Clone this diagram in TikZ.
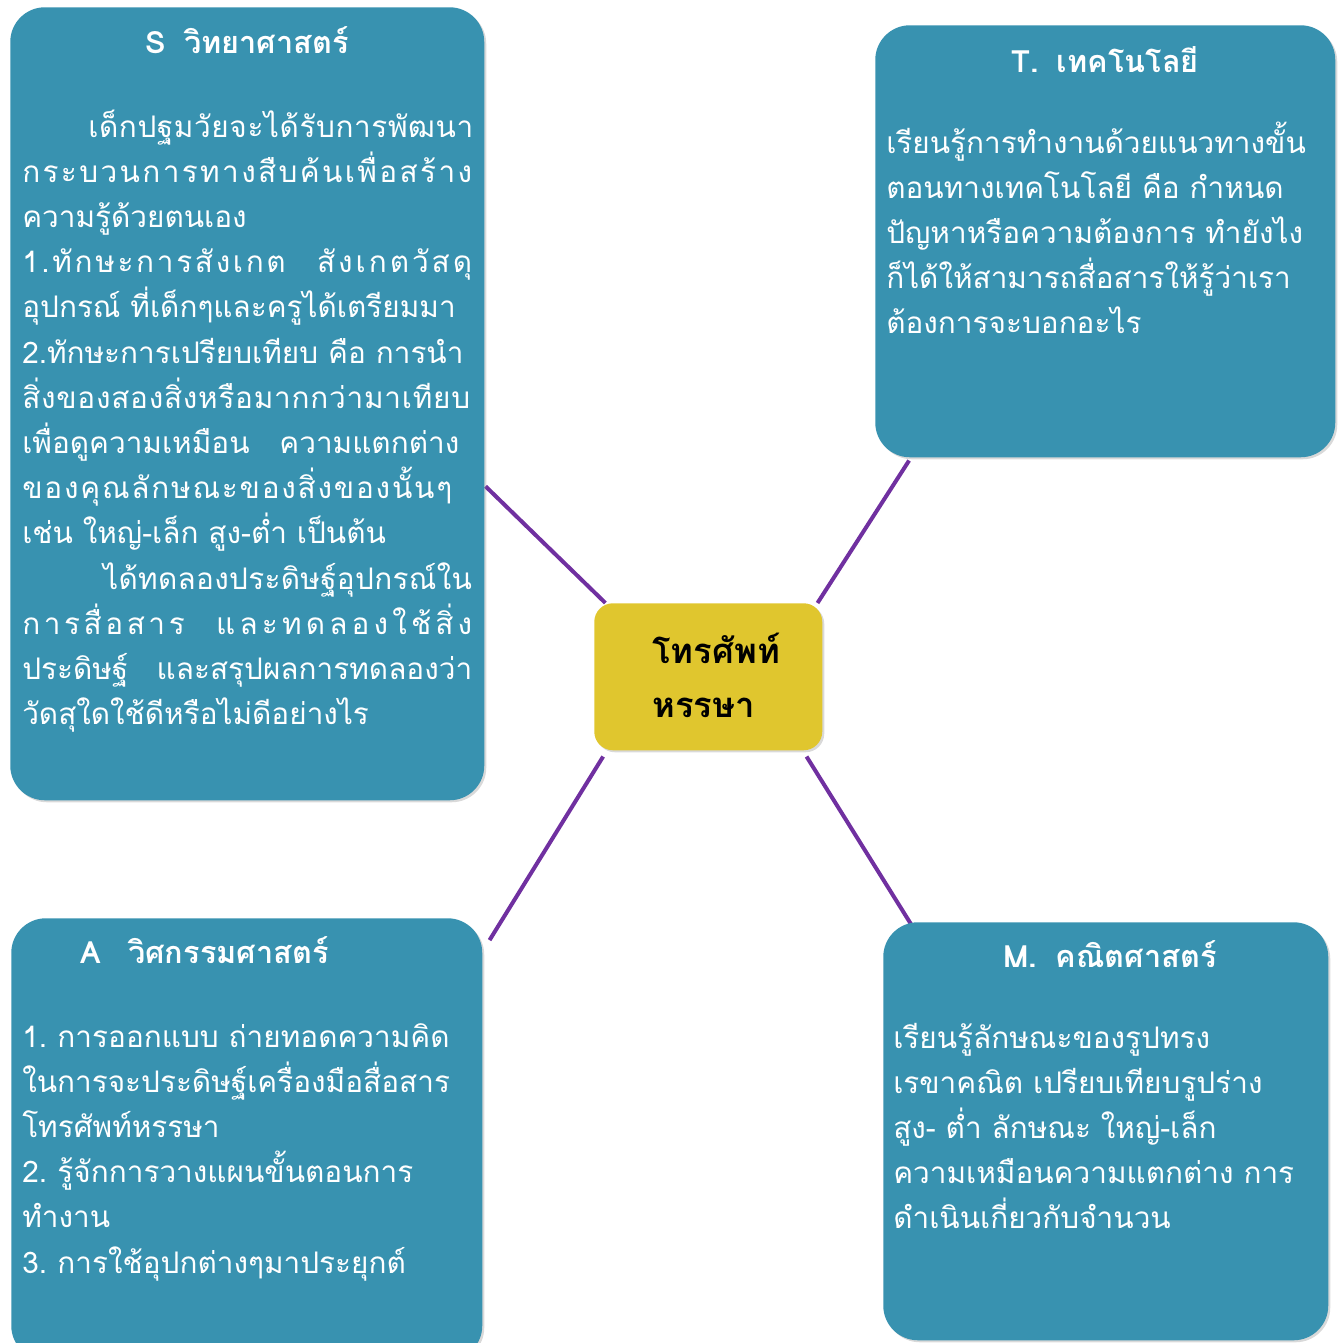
\documentclass[tikz,border=0pt]{standalone}
\usepackage{fontspec}
\setmainfont[Script=Thai]{Loma}
\usetikzlibrary{shadows,calc}
\pgfdeclarelayer{background}
\pgfsetlayers{background,main}
\definecolor{boxteal}{HTML}{3892B0}
\definecolor{hubyellow}{HTML}{E0C62E}
\definecolor{linkpurple}{HTML}{7030A0}
\newcommand{\spreadline}[2]{{\addfontfeature{LetterSpace=#1}#2}}
\newcommand{\fullline}[1]{\makebox[337.5pt][s]{#1}}
\tikzset{
  panel/.style={draw=none, fill=boxteal, rounded corners=26pt, anchor=north west, inner sep=0pt,
    drop shadow={opacity=0.3, shadow xshift=1.5pt, shadow yshift=-1.5pt}},
  hub/.style={draw=none, fill=hubyellow, rounded corners=14pt, anchor=north west, inner sep=0pt,
    drop shadow={opacity=0.3, shadow xshift=1.5pt, shadow yshift=-1.5pt}},
  ttl/.style={text=white, font=\bfseries\fontsize{23}{26}\selectfont, inner sep=0pt},
  body/.style={text=white, font=\fontsize{22.3}{33.9}\selectfont, align=left, text width=380pt,
    anchor=base west, inner sep=0pt},
  hubtext/.style={text=black, font=\bfseries\fontsize{26}{40.5}\selectfont, align=left, text width=160pt,
    anchor=base west, inner sep=0pt},
  conn/.style={draw=linkpurple, line width=3pt}
}
\begin{document}
\begin{tikzpicture}[x=0.75pt,y=-0.75pt]
\useasboundingbox (0,0) rectangle (1341,1343);
% panels
\node[panel, minimum width=355.5pt, minimum height=594.75pt] (S) at (10,7) {};
\node[panel, minimum width=345pt, minimum height=324pt] (T) at (875,25) {};
\node[panel, minimum width=353.25pt, minimum height=331.5pt] (A) at (11,918) {};
\node[panel, minimum width=333.75pt, minimum height=313.5pt] (M) at (883,922) {};
\node[hub, minimum width=171pt, minimum height=110.25pt] (C) at (594,603) {};
% connectors
\begin{pgfonlayer}{background}
\coordinate (sOut) at ($(S.north east)!0.604!(S.south east)+(1,0)$);
\coordinate (tOut) at ($(T.south west)!0.074!(T.south east)+(0,3)$);
\coordinate (aOut) at ($(A.north east)!0.05!(A.south east)+(7,0)$);
\coordinate (mOut) at (919,937);
\draw[conn] (sOut) -- ($(C.north west)!0.05!(C.north east)$);
\draw[conn] (tOut) -- ($(C.north west)!0.978!(C.north east)$);
\draw[conn] (aOut) -- ($(C.south west)!0.04!(C.south east)+(0,6)$);
\draw[conn] (mOut) -- ($(C.south west)!0.93!(C.south east)+(0,6)$);
\end{pgfonlayer}
% titles
\node[ttl, anchor=base] (St) at (247,53) {S\hspace{0.6em}วิทยาศาสตร์};
\node[ttl, anchor=base] (Tt) at (1105,72) {T.\hspace{0.6em}เทคโนโลยี};
\node[ttl, anchor=base west] (At) at (80,963) {A\hspace{0.9em}วิศกรรมศาสตร์};
\node[ttl, anchor=base] (Mt) at (1110,967) {M.\hspace{0.6em}คณิตศาสตร์};
% bodies
\node[body] (Sb) at (22,137) {\hspace*{49.5pt}\spreadline{2}{เด็กปฐมวัยจะได้รับการพัฒนา}\\
\spreadline{8}{กระบวนการทางสืบค้นเพื่อสร้าง}\\
ความรู้ด้วยตนเอง\\
\fullline{\spreadline{9}{1.ทักษะการสังเกต}\hfill\spreadline{10}{สังเกตวัสดุ}}\\
อุปกรณ์ ที่เด็กๆและครูได้เตรียมมา\\
\fullline{2.ทักษะการเปรียบเทียบ คือ การนำ}\\
\spreadline{2.5}{สิ่งของสองสิ่งหรือมากกว่ามาเทียบ}\\
เพื่อดูความเหมือน\hspace{1em}ความแตกต่าง\\
\spreadline{6}{ของคุณลักษณะของสิ่งของนั้นๆ}\\
เช่น ใหญ่-เล็ก สูง-ต่ำ เป็นต้น\\
\hspace*{60.75pt}\spreadline{1}{ได้ทดลองประดิษฐ์อุปกรณ์ใน}\\
\fullline{\spreadline{12}{การสื่อสาร}\hfill\spreadline{14}{และทดลองใช้สิ่ง}}\\
\fullline{ประดิษฐ์\hfill และสรุปผลการทดลองว่า}\\
วัดสุใดใช้ดีหรือไม่ดีอย่างไร};
\node[body] (Tb) at (886,153) {เรียนรู้การทำงานด้วยแนวทางขั้น\\
ตอนทางเทคโนโลยี คือ กำหนด\\
ปัญหาหรือความต้องการ ทำยังไง\\
ก็ได้ให้สามารถสื่อสารให้รู้ว่าเรา\\
ต้องการจะบอกอะไร};
\node[body] (Ab) at (22,1047) {1.\hspace{0.35em}การออกแบบ ถ่ายทอดความคิด\\
ในการจะประดิษฐ์เครื่องมือสื่อสาร\\
โทรศัพท์หรรษา\\
2.\hspace{0.35em}รู้จักการวางแผนขั้นตอนการ\\
ทำงาน\\
3.\hspace{0.35em}การใช้อุปกต่างๆมาประยุกต์};
\node[body] (Mb) at (893,1048) {เรียนรู้ลักษณะของรูปทรง\\
เรขาคณิต เปรียบเทียบรูปร่าง\\
สูง- ต่ำ ลักษณะ ใหญ่-เล็ก\\
ความเหมือนความแตกต่าง การ\\
ดำเนินเกี่ยวกับจำนวน};
\node[hubtext] (Ct) at (652,663) {โทรศัพท์\\หรรษา};
\end{tikzpicture}
\end{document}
